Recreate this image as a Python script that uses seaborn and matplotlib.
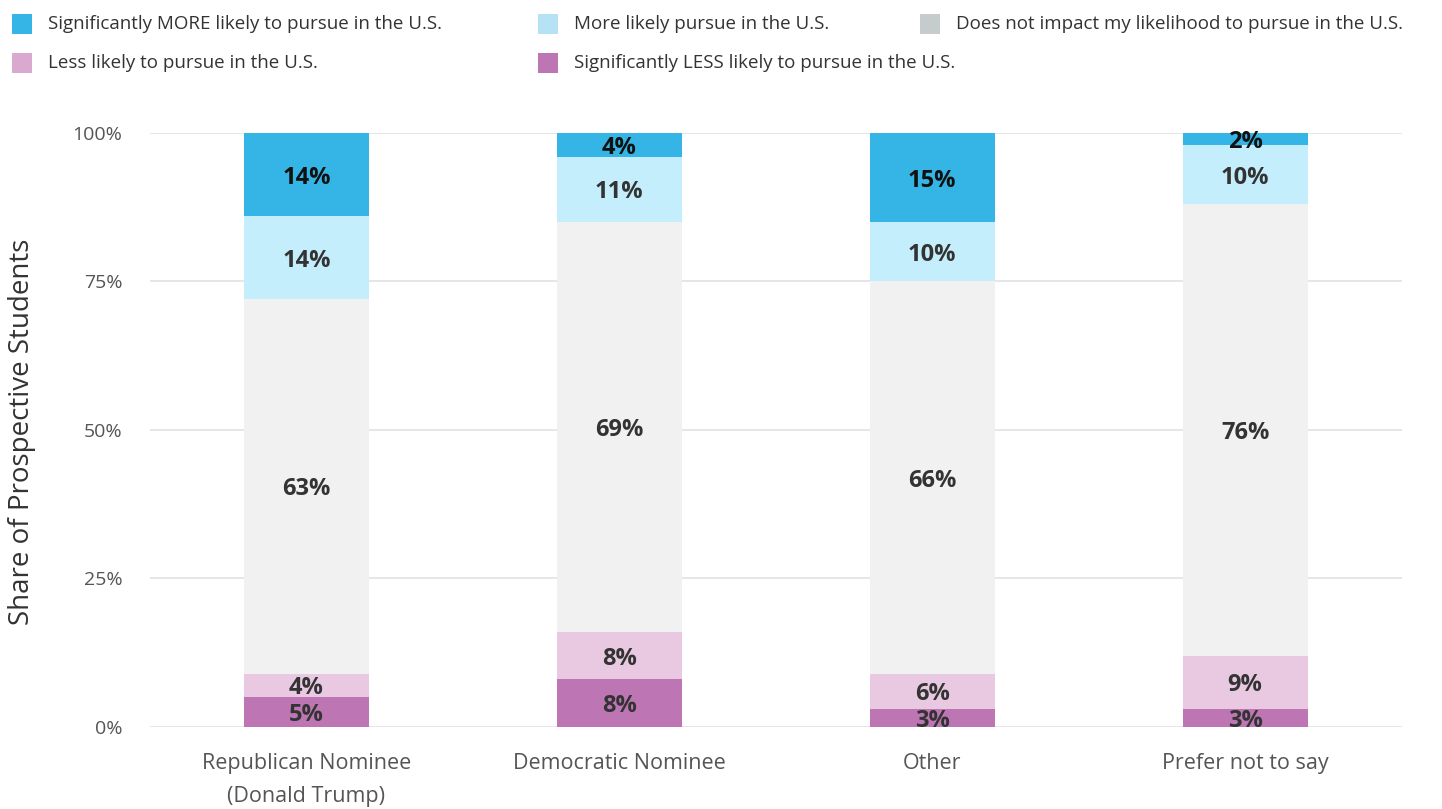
import matplotlib
matplotlib.use("Agg")
import matplotlib.pyplot as plt
from matplotlib.patches import Rectangle
import seaborn as sns
import numpy as np

categories = ["Republican Nominee\n(Donald Trump)", "Democratic Nominee", "Other", "Prefer not to say"]
series_names = [
    "Significantly LESS likely to pursue in the U.S.",
    "Less likely to pursue in the U.S.",
    "Does not impact my likelihood to pursue in the U.S.",
    "More likely pursue in the U.S.",
    "Significantly MORE likely to pursue in the U.S.",
]
sig_less = [5, 8, 3, 3]
less = [4, 8, 6, 9]
no_impact = [63, 69, 66, 76]
more = [14, 11, 10, 10]
sig_more = [14, 4, 15, 2]
series_values = [sig_less, less, no_impact, more, sig_more]

bar_colors = ["#BD75B3", "#E8C9E1", "#F1F1F1", "#C5EEFC", "#35B5E5"]
legend_colors = ["#BD75B3", "#D9A9D0", "#C6CCCC", "#B5E3F5", "#35B5E5"]
label_colors = ["#333333", "#333333", "#333333", "#333333", "#111111"]

sns.set_theme(style="white")
plt.rcParams['font.family'] = ['Open Sans', 'DejaVu Sans']

fig = plt.figure(figsize=(14.42, 8.09), dpi=100)
ax = fig.add_axes([0.104, 0.1014, 0.868, 0.7342])

bottom = np.zeros(len(categories))
for name, vals, col, lc in zip(series_names, series_values, bar_colors, label_colors):
    vals = np.array(vals, dtype=float)
    sns.barplot(x=categories, y=vals, bottom=bottom, color=col, width=0.4,
                ax=ax, saturation=1, edgecolor="none", linewidth=0)
    for i, v in enumerate(vals):
        ax.text(i, bottom[i] + v / 2, f"{int(v)}%", ha="center", va="center_baseline",
                fontsize=17, fontweight="bold", color=lc)
    bottom += vals

ax.set_ylim(0, 100)
ax.set_xlim(-0.5, 3.5)
ax.set_yticks([0, 25, 50, 75, 100])
ax.set_yticklabels(["0%", "25%", "50%", "75%", "100%"])
ax.yaxis.grid(True, color="#E2E2E2", linewidth=1.2)
ax.set_axisbelow(True)
for s in ax.spines.values():
    s.set_visible(False)
ax.tick_params(axis="y", length=0, pad=20, labelsize=14, labelcolor="#555555")
ax.tick_params(axis="x", length=0, pad=19, labelsize=15.5, labelcolor="#555555")
for t in ax.get_xticklabels():
    t.set_linespacing(1.7)
ax.set_xlabel("")
ax.set_ylabel("")

W, H = 1442.0, 809.0
fig.text(22 / W, 1 - 432 / H, "Share of Prospective Students", rotation=90,
         fontsize=20, color="#333333", ha="center", va="center")

# Manual legend layout (grid as in reference)
legend_items = [
    (4, 12, 24), (3, 538, 24), (2, 920, 24),
    (1, 12, 63), (0, 538, 63),
]
for idx, px, py in legend_items:
    fig.patches.append(Rectangle((px / W, 1 - (py + 10) / H), 20 / W, 20 / H,
                                 transform=fig.transFigure, facecolor=legend_colors[idx],
                                 edgecolor="none"))
    fig.text((px + 36) / W, 1 - py / H, series_names[idx], fontsize=13.5,
             color="#333333", va="center", ha="left")

fig.savefig("out.png", dpi=100)
